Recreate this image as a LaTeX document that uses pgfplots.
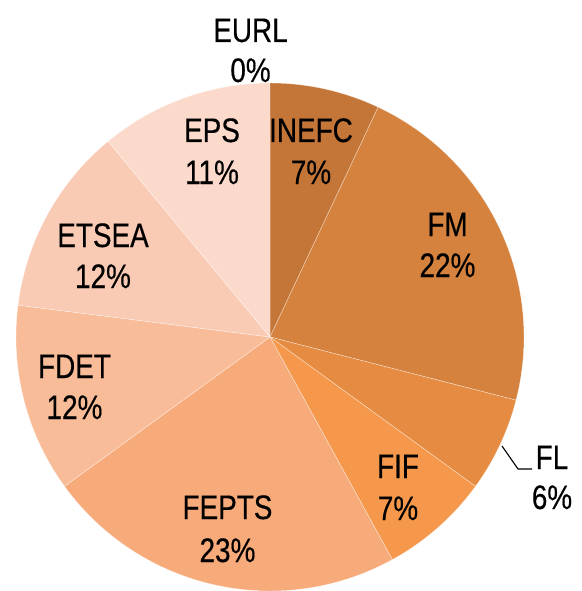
\documentclass[border=0pt]{standalone}
\usepackage{fontspec}
\setmainfont{Liberation Sans}[FakeStretch=0.82, FakeBold=0.4]
\usepackage{pgfplots}
\pgfplotsset{compat=1.18}
\definecolor{cINEFC}{RGB}{196,117,56}
\definecolor{cFM}{RGB}{213,130,62}
\definecolor{cFL}{RGB}{230,140,66}
\definecolor{cFIF}{RGB}{245,152,75}
\definecolor{cFEPTS}{RGB}{247,170,122}
\definecolor{cFDET}{RGB}{249,188,153}
\definecolor{cETSEA}{RGB}{249,202,180}
\definecolor{cEPS}{RGB}{252,218,203}
\begin{document}
\begin{tikzpicture}
\useasboundingbox (0,0) rectangle (581pt,591pt);
\begin{axis}[
  at={(0,0)}, anchor=south west,
  width=581pt, height=591pt, scale only axis,
  xmin=0, xmax=581, ymin=0, ymax=591, y dir=reverse,
  hide axis, clip=true,
  every axis plot/.append style={samples=60, line width=0.45pt, draw=white, draw opacity=0.55},
]
% slices: percentages 7, 22, 6, 7, 23, 12, 12, 11, 0 (clockwise from top)
\addplot[fill=cINEFC, domain=0:7*3.6] ({270+254*sin(x)},{337-254*cos(x)}) -- (axis cs:270,337) -- cycle;
\addplot[fill=cFM, domain=7*3.6:29*3.6] ({270+254*sin(x)},{337-254*cos(x)}) -- (axis cs:270,337) -- cycle;
\addplot[fill=cFL, domain=29*3.6:35*3.6] ({270+254*sin(x)},{337-254*cos(x)}) -- (axis cs:270,337) -- cycle;
\addplot[fill=cFIF, domain=35*3.6:42*3.6] ({270+254*sin(x)},{337-254*cos(x)}) -- (axis cs:270,337) -- cycle;
\addplot[fill=cFEPTS, domain=42*3.6:65*3.6] ({270+254*sin(x)},{337-254*cos(x)}) -- (axis cs:270,337) -- cycle;
\addplot[fill=cFDET, domain=65*3.6:77*3.6] ({270+254*sin(x)},{337-254*cos(x)}) -- (axis cs:270,337) -- cycle;
\addplot[fill=cETSEA, domain=77*3.6:89*3.6] ({270+254*sin(x)},{337-254*cos(x)}) -- (axis cs:270,337) -- cycle;
\addplot[fill=cEPS, domain=89*3.6:100*3.6] ({270+254*sin(x)},{337-254*cos(x)}) -- (axis cs:270,337) -- cycle;
% leader line for FL
\addplot[black, draw opacity=1, line width=1.1pt, fill=none] coordinates {(502,446) (518,469) (532,469)};
\tikzset{lab/.style={anchor=base, inner sep=0pt, font=\fontsize{34}{41}\selectfont}}
\node[lab] at (axis cs:250.5,42) {EURL};
\node[lab] at (axis cs:250.5,82) {0\%};
\node[lab] at (axis cs:311,142) {INEFC};
\node[lab] at (axis cs:311,184) {7\%};
\node[lab] at (axis cs:212,142) {EPS};
\node[lab] at (axis cs:212,184) {11\%};
\node[lab] at (axis cs:447.5,236) {FM};
\node[lab] at (axis cs:447.5,277) {22\%};
\node[lab] at (axis cs:552,469) {FL};
\node[lab] at (axis cs:552,509) {6\%};
\node[lab] at (axis cs:398,478) {FIF};
\node[lab] at (axis cs:398,520) {7\%};
\node[lab] at (axis cs:227.5,519) {FEPTS};
\node[lab] at (axis cs:227.5,562) {23\%};
\node[lab] at (axis cs:74.5,378) {FDET};
\node[lab] at (axis cs:74.5,419) {12\%};
\node[lab] at (axis cs:103,247) {ETSEA};
\node[lab] at (axis cs:103,288) {12\%};
\end{axis}
\end{tikzpicture}
\end{document}
